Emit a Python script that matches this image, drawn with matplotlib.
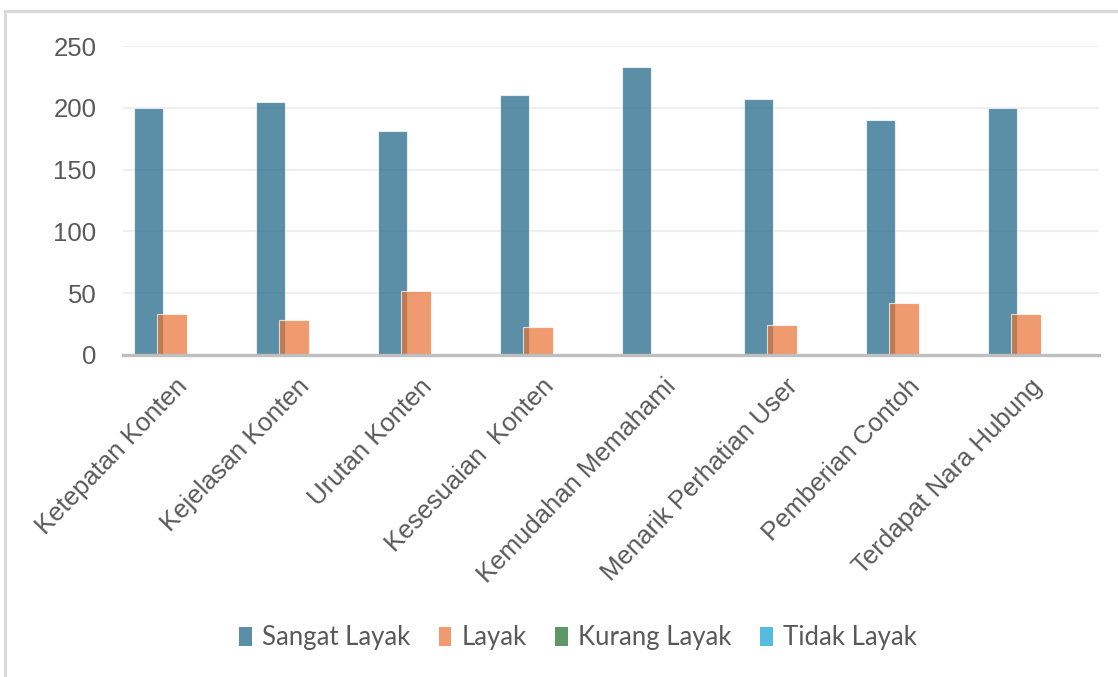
import numpy as np
import matplotlib
matplotlib.use("Agg")
import matplotlib.pyplot as plt
from matplotlib.lines import Line2D
from matplotlib.patches import Patch

# Category labels and series values
categories = [
    "Ketepatan Konten",
    "Kejelasan Konten",
    "Urutan Konten",
    "Kesesuaian  Konten",
    "Kemudahan Memahami",
    "Menarik Perhatian User",
    "Pemberian Contoh",
    "Terdapat Nara Hubung",
]
sangat_layak = [200, 205, 181, 210, 233, 207, 190, 200]
layak = [33, 28, 52, 23, 0, 24, 42, 33]
kurang_layak = [0, 0, 0, 0, 0, 0, 0, 0]
tidak_layak = [0, 0, 0, 0, 0, 0, 0, 0]

series_names = ["Sangat Layak", "Layak", "Kurang Layak", "Tidak Layak"]
series_colors = ["#156082", "#E97132", "#196B24", "#0F9ED5"]
y_ticks = [0, 50, 100, 150, 200, 250]

text_color = "#595959"
W, H = 1118, 677
fig = plt.figure(figsize=(W / 100, H / 100), dpi=100)
fig.patch.set_facecolor("white")

# Outer chart frame (left and top edges)
fig.add_artist(Line2D([4.5 / W, 4.5 / W, 1.0], [0.0, 1 - 10.5 / H, 1 - 10.5 / H],
                      transform=fig.transFigure, color="#D9D9D9", lw=2.2,
                      solid_joinstyle="miter"))

ax = fig.add_axes([123 / W, 1 - 355 / H, (1099 - 123) / W, (355 - 46) / H])

x = np.arange(len(categories))
bar_w = 0.242
step = 0.193
offsets = (np.arange(4) - 1.5) * step
all_series = [sangat_layak, layak, kurang_layak, tidak_layak]
for vals, off, col in zip(all_series, offsets, series_colors):
    ax.bar(x + off, vals, width=bar_w, color=col, alpha=0.7,
           edgecolor=(1, 1, 1, 0.35), linewidth=0.8, zorder=3)

ax.set_xlim(-0.5, len(categories) - 0.5)
ax.set_ylim(0, 250)
ax.set_yticks(y_ticks)
ax.yaxis.grid(True, color="#EFEFEF", lw=1.6, zorder=0)
ax.set_axisbelow(True)

for side in ["top", "right", "left"]:
    ax.spines[side].set_visible(False)
ax.spines["bottom"].set_color("#BFBFBF")
ax.spines["bottom"].set_linewidth(2.4)
ax.spines["bottom"].set_zorder(4)

ax.tick_params(axis="both", length=0, colors=text_color)
ax.tick_params(axis="y", pad=19)
ax.set_yticklabels([str(v) for v in y_ticks], fontfamily="Liberation Sans",
                   fontsize=18.5)

ax.set_xticks(x)
ax.set_xticklabels(categories, rotation=46, ha="right", va="center",
                   rotation_mode="anchor", fontfamily="Liberation Sans",
                   color=text_color, fontsize=18.5)
ax.tick_params(axis="x", pad=20)

handles = [Patch(facecolor=c, alpha=0.7, edgecolor="none") for c in series_colors]
leg = fig.legend(handles, series_names, loc="center", bbox_to_anchor=(578 / W, 1 - 638 / H),
                 ncol=4, frameon=False, handlelength=0.5, handleheight=0.75,
                 handletextpad=0.4, columnspacing=1.1,
                 prop={"family": "Lato", "size": 18.5})
for t in leg.get_texts():
    t.set_color(text_color)

fig.savefig("out.png", dpi=100, facecolor="white")
